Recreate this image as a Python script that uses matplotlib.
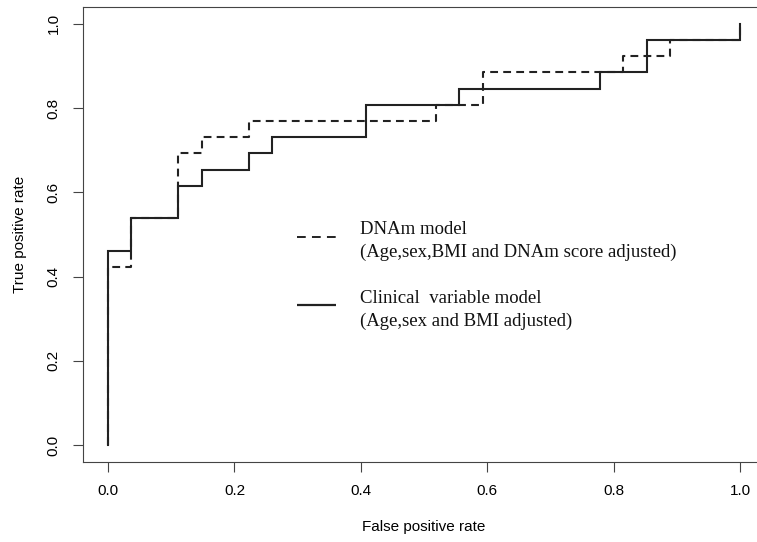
import matplotlib
matplotlib.use("Agg")
import numpy as np
import matplotlib.pyplot as plt

# ROC vertices: 27 negatives, 26 positives
N_NEG = 27
N_POS = 26

dnam_fp = [0, 0, 1, 1, 3, 3, 4, 4, 6, 6, 14, 14, 16, 16, 22, 22, 24, 24, 27, 27]
dnam_tp = [0, 11, 11, 14, 14, 18, 18, 19, 19, 20, 20, 21, 21, 23, 23, 24, 24, 25, 25, 26]

clin_fp = [0, 0, 1, 1, 3, 3, 4, 4, 6, 6, 7, 7, 11, 11, 15, 15, 21, 21, 23, 23, 27, 27]
clin_tp = [0, 12, 12, 14, 14, 16, 16, 17, 17, 18, 18, 19, 19, 21, 21, 22, 22, 23, 23, 25, 25, 26]

ticks = [0.0, 0.2, 0.4, 0.6, 0.8, 1.0]
tick_labels = ["0.0", "0.2", "0.4", "0.6", "0.8", "1.0"]

legend_titles = ["DNAm model", "Clinical  variable model"]
legend_notes = ["(Age,sex,BMI and DNAm score adjusted)", "(Age,sex and BMI adjusted)"]

fig = plt.figure(figsize=(7.57, 5.42), dpi=100)
ax = fig.add_axes([82.7 / 757, 1 - 462 / 542, (765.6 - 82.7) / 757, (462 - 7) / 542])

ax.plot(np.array(dnam_fp) / N_NEG, np.array(dnam_tp) / N_POS, color="#222222",
        lw=1.5, dashes=(3.75, 2.5), solid_joinstyle="miter")
ax.plot(np.array(clin_fp) / N_NEG, np.array(clin_tp) / N_POS, color="#222222",
        lw=1.5, solid_joinstyle="miter")

ax.set_xlim(-0.04, 1.04)
ax.set_ylim(-0.04, 1.04)

sans = "Liberation Sans"
ax.set_xticks(ticks)
ax.set_xticklabels(tick_labels, family=sans, fontsize=11)
ax.set_yticks(ticks)
ax.set_yticklabels(tick_labels, family=sans, fontsize=11, rotation=90, va="center")
ax.tick_params(length=7, width=0.8, color="#444444", pad=9)
ax.set_xlabel("False positive rate", family=sans, fontsize=11, labelpad=16)
ax.set_ylabel("True positive rate", family=sans, fontsize=11, labelpad=14)

for s in ax.spines.values():
    s.set_color("#444444")
    s.set_linewidth(0.8)

# legend drawn by hand, as in the original figure
serif = "Liberation Serif"
hx = [0.3134, 0.3705]
ax.plot(hx, [0.495, 0.495], transform=ax.transAxes, color="#222222", lw=1.4,
        dashes=(4.5, 3.2), solid_capstyle="butt", dash_capstyle="butt")
ax.plot(hx, [0.346, 0.346], transform=ax.transAxes, color="#222222", lw=1.6,
        solid_capstyle="butt")
for yc, t, n in zip([0.4853, 0.3345], legend_titles, legend_notes):
    ax.text(0.406, yc, t + "\n" + n, transform=ax.transAxes, family=serif,
            fontsize=13.5, va="center", ha="left", linespacing=1.4, color="#111111")

fig.savefig("out.png", dpi=100)
